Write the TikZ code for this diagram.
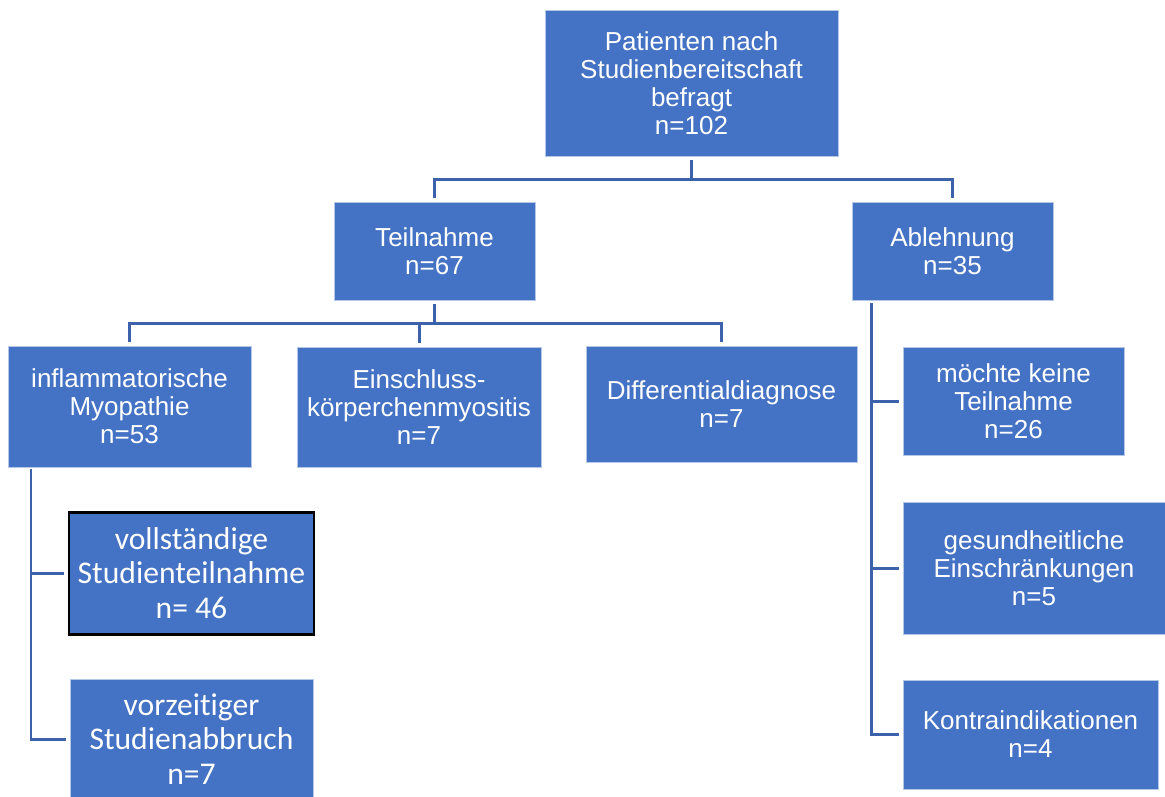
\documentclass[tikz,border=0pt]{standalone}
\usepackage{fontspec}
\setmainfont{Liberation Sans}
\newfontfamily\calibrifont[Ligatures=NoCommon]{Carlito}
\usepackage{tikz}
\usetikzlibrary{positioning}

\definecolor{boxblue}{HTML}{4472C4}
\definecolor{lineblue}{RGB}{59,98,170}

\tikzset{
	px/.style={x=0.02cm, y=-0.02cm},
	flowbox/.style={rectangle, fill=boxblue, draw=boxblue!40!white, line width=0.5pt,
		text=white, align=center, inner sep=0pt,
		font=\fontsize{14.8}{15.9}\selectfont},
	calbox/.style={flowbox, font=\calibrifont\fontsize{18}{19.8}\selectfont},
	conn/.style={draw=lineblue, line width=1.7pt},
}

\begin{document}
\begin{tikzpicture}[px]
			\useasboundingbox (0,0) rectangle (1165,796);
			% boxes
			\node[flowbox, minimum width=293*0.02cm, minimum height=146*0.02cm] (patienten) at (691.5,83) {Patienten nach\\Studienbereitschaft\\befragt\\n=102};
			\node[flowbox, minimum width=201*0.02cm, minimum height=98*0.02cm] (teilnahme) at (434.5,251) {Teilnahme\\n=67};
			\node[flowbox, minimum width=201*0.02cm, minimum height=98*0.02cm] (ablehnung) at (952.5,251) {Ablehnung\\n=35};
			\node[flowbox, minimum width=243*0.02cm, minimum height=121*0.02cm] (myopathie) at (129.5,406.5) {inflammatorische\\Myopathie\\n=53};
			\node[flowbox, minimum width=244*0.02cm, minimum height=120*0.02cm] (ekm) at (419,407) {Einschluss-\\körperchenmyositis\\n=7};
			\node[flowbox, minimum width=271*0.02cm, minimum height=116*0.02cm] (diffdiag) at (721.5,404) {Differentialdiagnose\\n=7};
			\node[calbox, draw=black, line width=1.7pt, minimum width=245*0.02cm, minimum height=122*0.02cm] (vollst) at (191.5,573) {vollständige\\Studienteilnahme\\n= 46};
			\node[calbox, minimum width=243*0.02cm, minimum height=120*0.02cm] (abbruch) at (191.5,739) {vorzeitiger\\Studienabbruch\\n=7};
			\node[flowbox, minimum width=221*0.02cm, minimum height=108*0.02cm] (keine) at (1013.5,401) {möchte keine\\Teilnahme\\n=26};
			\node[flowbox, minimum width=262*0.02cm, minimum height=132*0.02cm] (gesund) at (1034,568) {gesundheitliche\\Einschränkungen\\n=5};
			\node[flowbox, minimum width=255*0.02cm, minimum height=109*0.02cm] (kontra) at (1030.5,734.5) {Kontraindikationen\\n=4};
			% junctions
			\coordinate (j-top) at (691.5,179);
			\coordinate (j-teil) at (434.5,323);
			\coordinate (stem-myo) at (31,469);
			\coordinate (stem-abl) at (871,303);
			% connectors
			\draw[conn, shorten <=2pt] (patienten.south) -- (j-top);
			\draw[conn, shorten >=2pt] (j-top) -| (teilnahme.north);
			\draw[conn, shorten >=2pt] (j-top) -| (ablehnung.north);
			\draw[conn, shorten <=2pt] (teilnahme.south) -- (j-teil);
			\draw[conn, shorten >=2pt] (j-teil) -| (myopathie.north);
			\draw[conn, shorten >=2pt] (j-teil) -| (ekm.north);
			\draw[conn, shorten >=2pt] (j-teil) -| (diffdiag.north);
			\draw[conn, shorten >=2pt] (stem-myo) |- (vollst.west);
			\draw[conn, shorten >=2pt] (stem-myo) |- (abbruch.west);
			\draw[conn, shorten >=2pt] (stem-abl) |- (keine.west);
			\draw[conn, shorten >=2pt] (stem-abl) |- (gesund.west);
			\draw[conn, shorten >=2pt] (stem-abl) |- (kontra.west);
		\end{tikzpicture}
\end{document}
